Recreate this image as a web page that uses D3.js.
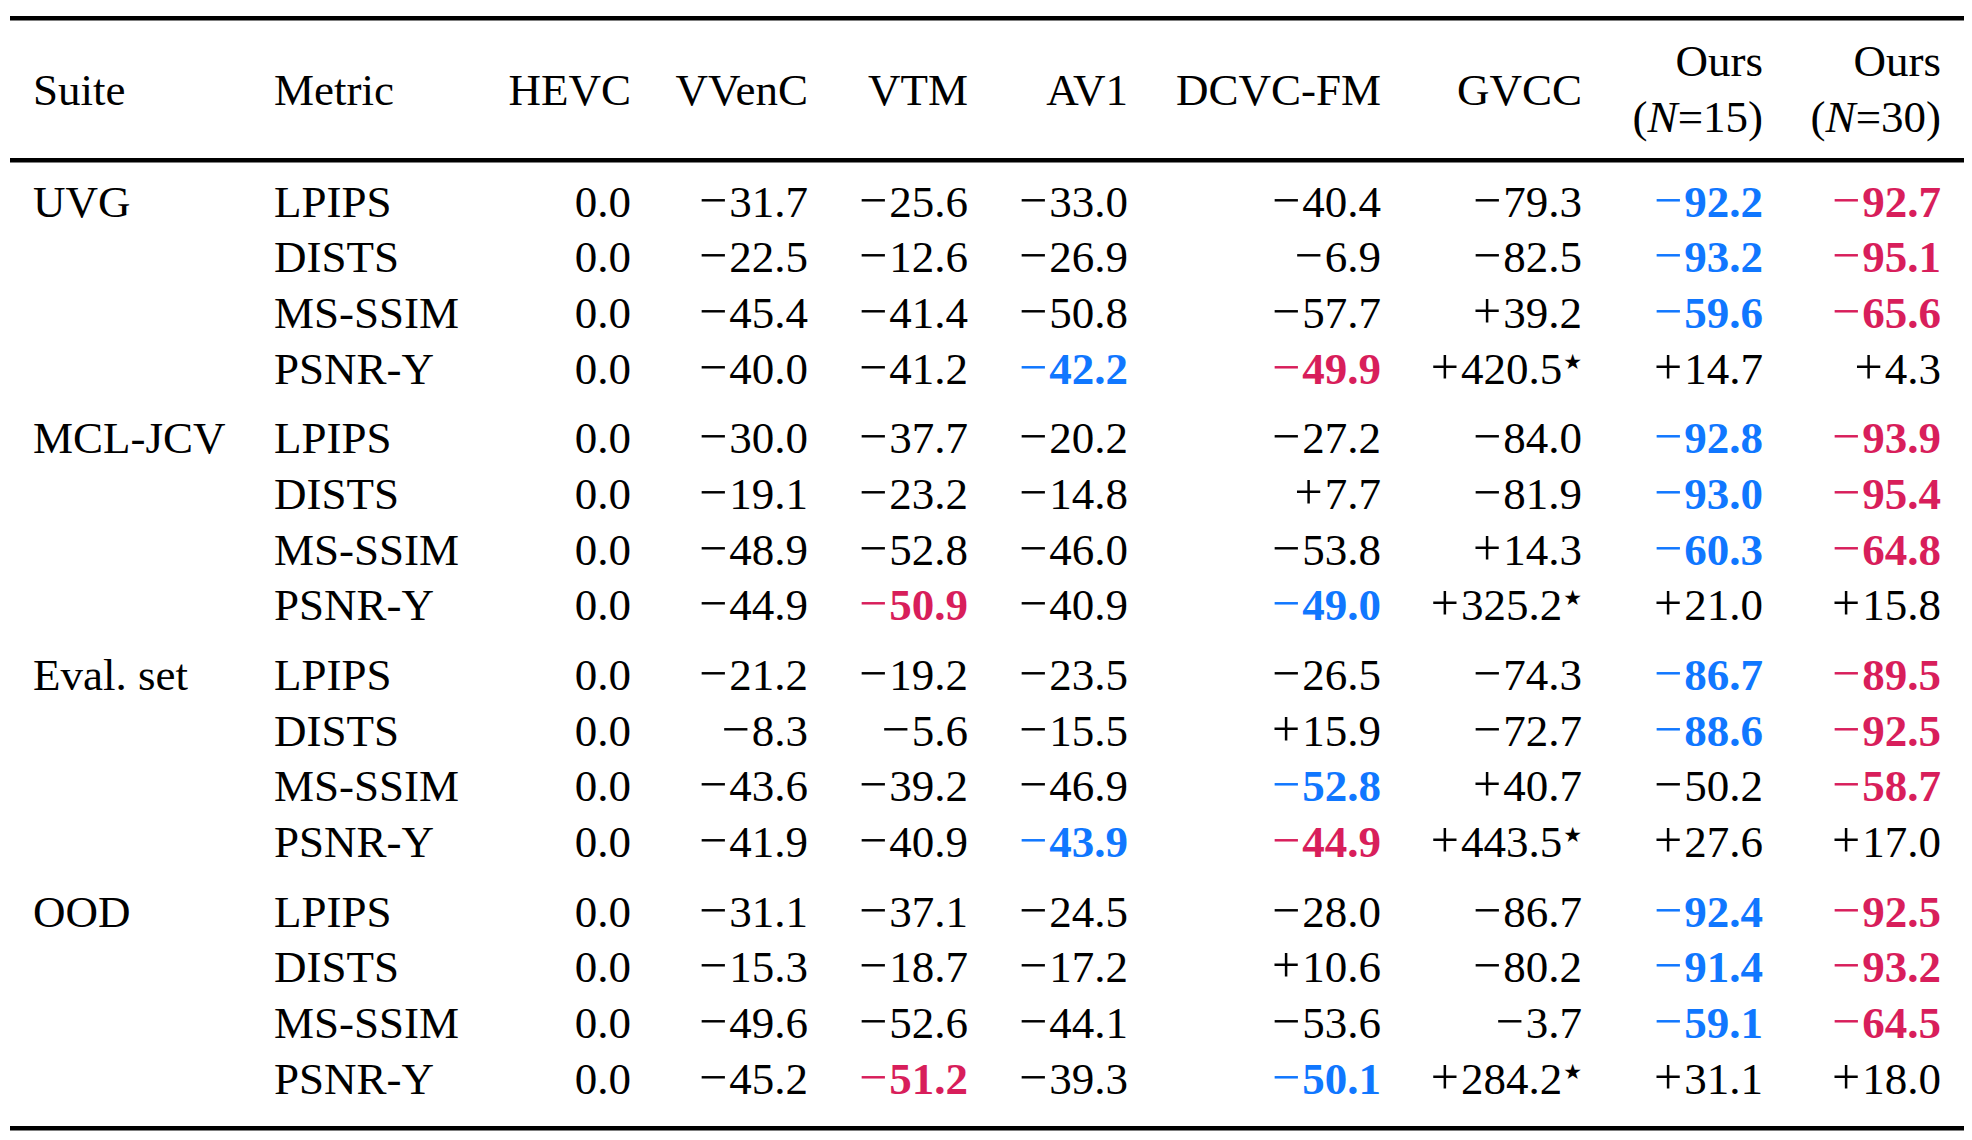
<!DOCTYPE html>
<html>
<head>
<meta charset="utf-8">
<script src="https://cdn.jsdelivr.net/npm/d3@7/dist/d3.min.js"></script>
<style>
  html, body { margin: 0; padding: 0; background: #ffffff; }
  svg { display: block; }
  text { font-family: "Liberation Serif", "Times New Roman", serif; font-size: 45px; fill: #000; }
</style>
</head>
<body>
<svg id="chart" width="1972" height="1140"></svg>
<script>
// ---------- data ----------
const suites  = ["UVG", "MCL-JCV", "Eval. set", "OOD"];
const metrics = ["LPIPS", "DISTS", "MS-SSIM", "PSNR-Y"];
const methods = ["HEVC", "VVenC", "VTM", "AV1", "DCVC-FM", "GVCC", "Ours15", "Ours30"];
const headerLabels = ["HEVC", "VVenC", "VTM", "AV1", "DCVC-FM", "GVCC", "Ours", "Ours"];
const headerN = { Ours15: "15", Ours30: "30" };

// rows: suite-major (UVG LPIPS, UVG DISTS, ..., OOD PSNR-Y)
const hevc   = [0.0, 0.0, 0.0, 0.0,  0.0, 0.0, 0.0, 0.0,  0.0, 0.0, 0.0, 0.0,  0.0, 0.0, 0.0, 0.0];
const vvenc  = [-31.7, -22.5, -45.4, -40.0,  -30.0, -19.1, -48.9, -44.9,  -21.2, -8.3, -43.6, -41.9,  -31.1, -15.3, -49.6, -45.2];
const vtm    = [-25.6, -12.6, -41.4, -41.2,  -37.7, -23.2, -52.8, -50.9,  -19.2, -5.6, -39.2, -40.9,  -37.1, -18.7, -52.6, -51.2];
const av1    = [-33.0, -26.9, -50.8, -42.2,  -20.2, -14.8, -46.0, -40.9,  -23.5, -15.5, -46.9, -43.9,  -24.5, -17.2, -44.1, -39.3];
const dcvcfm = [-40.4, -6.9, -57.7, -49.9,  -27.2, 7.7, -53.8, -49.0,  -26.5, 15.9, -52.8, -44.9,  -28.0, 10.6, -53.6, -50.1];
const gvcc   = [-79.3, -82.5, 39.2, 420.5,  -84.0, -81.9, 14.3, 325.2,  -74.3, -72.7, 40.7, 443.5,  -86.7, -80.2, -3.7, 284.2];
const ours15 = [-92.2, -93.2, -59.6, 14.7,  -92.8, -93.0, -60.3, 21.0,  -86.7, -88.6, -50.2, 27.6,  -92.4, -91.4, -59.1, 31.1];
const ours30 = [-92.7, -95.1, -65.6, 4.3,  -93.9, -95.4, -64.8, 15.8,  -89.5, -92.5, -58.7, 17.0,  -92.5, -93.2, -64.5, 18.0];

// best (red) and second best (blue): [row, method]
const bestCells = [[0,"Ours30"],[1,"Ours30"],[2,"Ours30"],[3,"DCVC-FM"],
                   [4,"Ours30"],[5,"Ours30"],[6,"Ours30"],[7,"VTM"],
                   [8,"Ours30"],[9,"Ours30"],[10,"Ours30"],[11,"DCVC-FM"],
                   [12,"Ours30"],[13,"Ours30"],[14,"Ours30"],[15,"VTM"]];
const secondCells = [[0,"Ours15"],[1,"Ours15"],[2,"Ours15"],[3,"AV1"],
                     [4,"Ours15"],[5,"Ours15"],[6,"Ours15"],[7,"DCVC-FM"],
                     [8,"Ours15"],[9,"Ours15"],[10,"DCVC-FM"],[11,"AV1"],
                     [12,"Ours15"],[13,"Ours15"],[14,"Ours15"],[15,"DCVC-FM"]];
const starredGVCC = [3, 7, 11, 15];

// ---------- layout ----------
const W = 1972, H = 1140;
const RED = "#d81e5b", BLUE = "#1077ff";
const seriesByMethod = { "HEVC": hevc, "VVenC": vvenc, "VTM": vtm, "AV1": av1,
  "DCVC-FM": dcvcfm, "GVCC": gvcc, "Ours15": ours15, "Ours30": ours30 };

const svg = d3.select("#chart");
svg.append("rect").attr("width", W).attr("height", H).attr("fill", "#fff");

const xRight = d3.scaleOrdinal().domain(methods)
  .range([631, 808, 968, 1128, 1381, 1582, 1763, 1941]);
const xSuite = 33, xMetric = 274;

const groupGap = 14.3 / 55.6;
const rowPos = i => i + Math.floor(i / metrics.length) * groupGap;
const y = d3.scaleLinear().domain([0, 1]).range([216.7, 272.3]);

// rules
const ruleX0 = 10, ruleX1 = 1964;
[18.3, 160.3, 1128.3].forEach(yy => {
  svg.append("line").attr("x1", ruleX0).attr("x2", ruleX1)
    .attr("y1", yy).attr("y2", yy).attr("stroke", "#000").attr("stroke-width", 4.6);
});

// header
svg.append("text").attr("x", xSuite).attr("y", 105).text("Suite");
svg.append("text").attr("x", xMetric).attr("y", 105).text("Metric");
methods.forEach((m, k) => {
  if (headerN[m]) {
    svg.append("text").attr("x", xRight(m)).attr("y", 76).attr("text-anchor", "end").text(headerLabels[k]);
    const t = svg.append("text").attr("x", xRight(m)).attr("y", 132).attr("text-anchor", "end");
    t.append("tspan").text("(");
    t.append("tspan").attr("font-style", "italic").text("N");
    t.append("tspan").text("=" + headerN[m] + ")");
  } else {
    svg.append("text").attr("x", xRight(m)).attr("y", 105).attr("text-anchor", "end").text(headerLabels[k]);
  }
});

// body
const nRows = suites.length * metrics.length;
const styleOf = (i, m) => {
  if (bestCells.some(c => c[0] === i && c[1] === m)) return RED;
  if (secondCells.some(c => c[0] === i && c[1] === m)) return BLUE;
  return null;
};

d3.range(nRows).forEach(i => {
  const yy = y(rowPos(i));
  const g = Math.floor(i / metrics.length), r = i % metrics.length;
  if (r === 0) svg.append("text").attr("x", xSuite).attr("y", yy).text(suites[g]);
  svg.append("text").attr("x", xMetric).attr("y", yy).text(metrics[r]);

  methods.forEach(m => {
    const v = seriesByMethod[m][i];
    const col = styleOf(i, m);
    const t = svg.append("text").attr("x", xRight(m)).attr("y", yy).attr("text-anchor", "end")
      .style("fill", col || "#000");
    const body = Math.abs(v).toFixed(1);
    if (v !== 0) {
      t.append("tspan").style("font-size", "50px").text(v < 0 ? "\u2212" : "+");
      t.append("tspan").attr("dx", 2).attr("font-weight", col ? "bold" : "normal").text(body);
    } else {
      t.append("tspan").attr("font-weight", col ? "bold" : "normal").text(body);
    }
    if (m === "GVCC" && starredGVCC.includes(i)) {
      t.append("tspan").attr("dy", -15).attr("dx", 1).style("font-family", "DejaVu Sans")
        .style("font-size", "21px").text("\u2605");
    }
  });
});
</script>
</body>
</html>
